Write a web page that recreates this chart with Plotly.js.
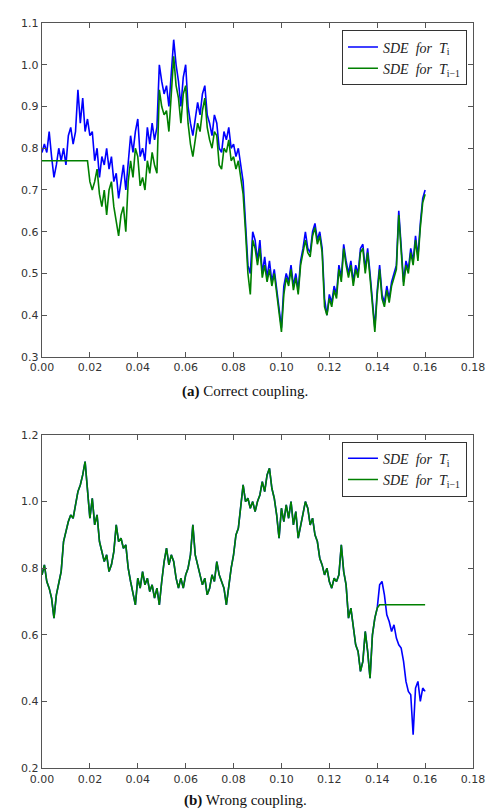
<!DOCTYPE html>
<html>
<head>
<meta charset="utf-8">
<script src="https://cdn.plot.ly/plotly-3.0.1.min.js"></script>
<style>html,body{margin:0;padding:0;background:#fff;}#chart{width:491px;height:811px;}</style>
</head>
<body>
<div id="chart"></div>
<script>
// time step of the plotted paths (x values: 0.000 .. 0.160)
const N = 161;
const tGrid = Array.from({length: N}, (_, i) => +(i * 0.001).toFixed(3));

// (a) Correct coupling
const topBlueTi = [0.79,0.81,0.79,0.84,0.78,0.73,0.76,0.80,0.77,0.80,
  0.76,0.83,0.85,0.81,0.84,0.94,0.86,0.92,0.84,0.87,
  0.83,0.84,0.77,0.80,0.73,0.78,0.76,0.80,0.75,0.78,
  0.72,0.74,0.68,0.72,0.76,0.70,0.77,0.83,0.79,0.84,
  0.87,0.78,0.80,0.77,0.85,0.81,0.86,0.82,0.85,1.00,
  0.96,0.93,0.95,0.90,0.98,1.06,1.00,0.96,0.90,0.97,
  1.00,0.90,0.86,0.83,0.87,0.91,0.88,0.93,0.95,0.88,
  0.86,0.83,0.88,0.86,0.80,0.79,0.84,0.82,0.85,0.80,
  0.81,0.78,0.80,0.76,0.72,0.62,0.52,0.50,0.60,0.58,
  0.53,0.58,0.50,0.54,0.49,0.53,0.48,0.51,0.46,0.42,
  0.37,0.47,0.50,0.48,0.52,0.47,0.50,0.46,0.53,0.56,
  0.60,0.56,0.55,0.60,0.62,0.58,0.60,0.56,0.44,0.40,
  0.45,0.43,0.47,0.45,0.52,0.49,0.57,0.53,0.50,0.53,
  0.48,0.52,0.50,0.56,0.57,0.51,0.56,0.50,0.44,0.37,
  0.46,0.52,0.45,0.43,0.47,0.44,0.48,0.50,0.52,0.65,
  0.55,0.48,0.53,0.51,0.56,0.53,0.59,0.54,0.62,0.68,
  0.70];
const topGreenTim1 = [0.77,0.77,0.77,0.77,0.77,0.77,0.77,0.77,0.77,0.77,
  0.77,0.77,0.77,0.77,0.77,0.77,0.77,0.77,0.77,0.77,
  0.72,0.70,0.72,0.75,0.69,0.66,0.70,0.64,0.70,0.72,
  0.66,0.62,0.59,0.64,0.66,0.60,0.72,0.77,0.73,0.80,
  0.78,0.71,0.73,0.70,0.77,0.74,0.79,0.76,0.74,0.94,
  0.90,0.88,0.89,0.84,0.93,1.02,0.95,0.92,0.86,0.93,
  0.95,0.86,0.81,0.78,0.82,0.86,0.84,0.89,0.92,0.85,
  0.82,0.80,0.84,0.83,0.76,0.75,0.80,0.79,0.82,0.77,
  0.78,0.75,0.77,0.73,0.69,0.60,0.50,0.45,0.58,0.56,
  0.52,0.56,0.49,0.52,0.48,0.51,0.47,0.50,0.45,0.41,
  0.36,0.45,0.49,0.47,0.51,0.46,0.49,0.45,0.52,0.55,
  0.58,0.55,0.54,0.59,0.61,0.57,0.59,0.55,0.42,0.40,
  0.44,0.42,0.46,0.44,0.51,0.48,0.56,0.52,0.49,0.52,
  0.47,0.51,0.49,0.55,0.56,0.50,0.55,0.49,0.43,0.36,
  0.45,0.51,0.44,0.42,0.46,0.43,0.47,0.49,0.51,0.64,
  0.54,0.47,0.52,0.50,0.55,0.52,0.58,0.53,0.61,0.67,
  0.69];

// (b) Wrong coupling: common path up to t = 0.140, then the two tails
const bottomShared = [0.78,0.81,0.76,0.74,0.71,0.65,0.72,0.76,0.79,0.88,
  0.91,0.94,0.96,0.95,0.99,1.03,1.05,1.08,1.12,1.04,
  0.95,1.01,0.93,0.96,0.88,0.85,0.82,0.84,0.79,0.81,
  0.85,0.93,0.88,0.89,0.86,0.87,0.80,0.76,0.72,0.69,
  0.77,0.74,0.79,0.75,0.77,0.73,0.75,0.71,0.74,0.69,
  0.76,0.82,0.86,0.81,0.84,0.82,0.77,0.74,0.77,0.74,
  0.78,0.80,0.84,0.93,0.84,0.81,0.78,0.75,0.77,0.72,
  0.74,0.78,0.76,0.82,0.78,0.76,0.74,0.69,0.75,0.80,
  0.84,0.90,0.92,0.98,1.05,1.00,1.01,0.98,1.00,0.97,
  1.00,1.02,1.06,1.03,1.08,1.10,1.04,1.01,0.96,0.89,
  0.98,0.94,0.99,0.95,1.00,0.93,0.97,0.89,0.93,0.96,
  1.00,0.98,0.93,0.95,0.90,0.88,0.83,0.81,0.78,0.80,
  0.76,0.74,0.77,0.76,0.78,0.87,0.79,0.75,0.65,0.68,
  0.62,0.57,0.55,0.49,0.52,0.61,0.55,0.47,0.60,0.65,
  0.68];
const bottomBlueTail = [0.75,0.76,0.72,0.66,0.64,0.61,0.63,0.59,0.57,0.56,
  0.52,0.46,0.43,0.42,0.30,0.44,0.46,0.40,0.44,0.43];
const bottomGreenTail = [0.69,0.69,0.69,0.69,0.69,0.69,0.69,0.69,0.69,0.69,
  0.69,0.69,0.69,0.69,0.69,0.69,0.69,0.69,0.69,0.69];
const bottomBlueTi = bottomShared.concat(bottomBlueTail);
const bottomGreenTim1 = bottomShared.concat(bottomGreenTail);

const xTicks = [0,0.02,0.04,0.06,0.08,0.10,0.12,0.14,0.16,0.18];
const yTicksTop = [0.3,0.4,0.5,0.6,0.7,0.8,0.9,1.0,1.1];
const yTicksBottom = [0.2,0.4,0.6,0.8,1.0,1.2];

const nameTi = '<i>SDE  for  T</i><sub>i</sub>';
const nameTim1 = '<i>SDE  for  T</i><sub>i−1</sub>';
const BLUE = '#0000ff', GREEN = '#008000';
const LW = 1.6;

const traces = [
  {x: tGrid, y: topBlueTi, type: 'scatter', mode: 'lines', name: nameTi,
   line: {color: BLUE, width: LW}, xaxis: 'x', yaxis: 'y', legend: 'legend'},
  {x: tGrid, y: topGreenTim1, type: 'scatter', mode: 'lines', name: nameTim1,
   line: {color: GREEN, width: LW}, xaxis: 'x', yaxis: 'y', legend: 'legend'},
  {x: tGrid, y: bottomBlueTi, type: 'scatter', mode: 'lines', name: nameTi,
   line: {color: BLUE, width: LW}, xaxis: 'x2', yaxis: 'y2', legend: 'legend2'},
  {x: tGrid, y: bottomGreenTim1, type: 'scatter', mode: 'lines', name: nameTim1,
   line: {color: GREEN, width: LW}, xaxis: 'x2', yaxis: 'y2', legend: 'legend2'}
];

const axisCommon = {
  showline: true, linecolor: '#555', linewidth: 1.3, mirror: 'ticks',
  ticks: 'inside', ticklen: 5, tickcolor: '#555', tickwidth: 1,
  showgrid: false, zeroline: false,
  tickfont: {family: 'DejaVu Sans, sans-serif', size: 11, color: '#333'}
};

const legendCommon = {
  bgcolor: '#fff', bordercolor: '#333', borderwidth: 1,
  font: {family: 'Liberation Serif, serif', size: 14, color: '#222'},
  itemwidth: 30, tracegroupgap: 0, xanchor: 'right', yanchor: 'top'
};

const layout = {
  width: 491, height: 811,
  margin: {l: 42, r: 18, t: 23, b: 43},
  paper_bgcolor: '#fff', plot_bgcolor: '#fff',
  showlegend: true,
  xaxis: Object.assign({}, axisCommon, {domain: [0, 1], range: [0, 0.18], tickvals: xTicks, tickformat: '.2f', anchor: 'y'}),
  yaxis: Object.assign({}, axisCommon, {domain: [0.5517, 1], range: [0.3, 1.1], tickvals: yTicksTop, tickformat: '.1f', anchor: 'x'}),
  xaxis2: Object.assign({}, axisCommon, {domain: [0, 1], range: [0, 0.18], tickvals: xTicks, tickformat: '.2f', anchor: 'y2'}),
  yaxis2: Object.assign({}, axisCommon, {domain: [0, 0.447], range: [0.2, 1.2], tickvals: yTicksBottom, tickformat: '.1f', anchor: 'x2'}),
  legend: Object.assign({}, legendCommon, {x: 0.986, y: 0.99}),
  legend2: Object.assign({}, legendCommon, {x: 0.986, y: 0.438}),
  annotations: [
    {text: '<b>(a)</b> Correct coupling.', xref: 'paper', yref: 'paper', x: 0.471, y: 0.5047,
     showarrow: false, xanchor: 'center', yanchor: 'middle',
     font: {family: 'Liberation Serif, serif', size: 15, color: '#111'}},
    {text: '<b>(b)</b> Wrong coupling.', xref: 'paper', yref: 'paper', x: 0.471, y: -0.043,
     showarrow: false, xanchor: 'center', yanchor: 'middle',
     font: {family: 'Liberation Serif, serif', size: 15, color: '#111'}}
  ]
};

Plotly.newPlot('chart', traces, layout, {displayModeBar: false, staticPlot: true});
</script>
</body>
</html>
